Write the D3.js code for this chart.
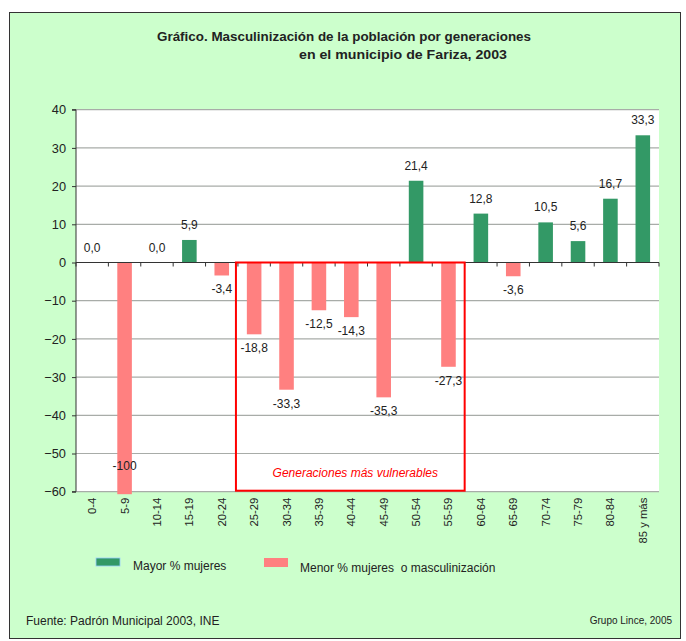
<!DOCTYPE html>
<html>
<head>
<meta charset="utf-8">
<script src="https://cdn.jsdelivr.net/npm/d3@7"></script>
<style>
html,body{margin:0;padding:0;background:#fff;}
svg{display:block;font-family:"Liberation Sans",Arial,sans-serif;}
text{white-space:pre;}
</style>
</head>
<body>
<svg id="chart" width="686" height="641"></svg>
<script>
const categories = ["0-4","5-9","10-14","15-19","20-24","25-29","30-34","35-39","40-44","45-49","50-54","55-59","60-64","65-69","70-74","75-79","80-84","85 y más"];
const values = [0.0,-100,0.0,5.9,-3.4,-18.8,-33.3,-12.5,-14.3,-35.3,21.4,-27.3,12.8,-3.6,10.5,5.6,16.7,33.3];
const valueLabels = ["0,0","-100","0,0","5,9","-3,4","-18,8","-33,3","-12,5","-14,3","-35,3","21,4","-27,3","12,8","-3,6","10,5","5,6","16,7","33,3"];
const yTicks = [40,30,20,10,0,-10,-20,-30,-40,-50,-60];
const highlightRange = ["25-29","55-59"];
const legendItems = ["Mayor % mujeres","Menor % mujeres  o masculinización"];
const titleLines = ["Gráfico. Masculinización de la población por generaciones","en el municipio de Fariza, 2003"];
const highlightText = "Generaciones más vulnerables";
const sourceText = "Fuente: Padrón Municipal 2003, INE";
const creditText = "Grupo Lince, 2005";

const GREEN = "#339966", PINK = "#FF8080", BG = "#CCFFCC";
const svg = d3.select("#chart");

// background and border
svg.append("rect").attr("x",0).attr("y",0).attr("width",686).attr("height",641).attr("fill","#fff");
svg.append("rect").attr("x",9.5).attr("y",12.5).attr("width",671).attr("height",626)
  .attr("fill",BG).attr("stroke","#333").attr("stroke-width",1);

const L = 76, R = 659, T = 109.7, B = 491.7;
const x = d3.scaleBand().domain(categories).range([L,R]).paddingInner(0.55).paddingOuter(0.275);
const y = d3.scaleLinear().domain([-60,40]).range([B,T]);
const step = x.step();

// plot area
svg.append("rect").attr("x",L).attr("y",T).attr("width",R-L).attr("height",B-T).attr("fill","#fff");

// gridlines
svg.append("g").selectAll("line").data(yTicks).join("line")
  .attr("x1",L).attr("x2",R).attr("y1",d=>y(d)).attr("y2",d=>y(d))
  .attr("stroke","#a8aca8").attr("stroke-width",1.2);

// title
svg.append("text").attr("x",157).attr("y",41).attr("font-size",13.4).attr("font-weight","bold").attr("fill","#222")
  .attr("textLength",374).attr("lengthAdjust","spacingAndGlyphs").text(titleLines[0]);
svg.append("text").attr("x",299).attr("y",59).attr("font-size",13.4).attr("font-weight","bold").attr("fill","#222")
  .attr("textLength",208).attr("lengthAdjust","spacingAndGlyphs").text(titleLines[1]);

// bars
const barEnd = v => Math.min(y(v), B + 2.5);
svg.append("g").selectAll("rect").data(values).join("rect")
  .attr("x",(d,i)=>x(categories[i]))
  .attr("width",x.bandwidth())
  .attr("y",d=> d>=0 ? y(d) : y(0))
  .attr("height",d=> d>=0 ? y(0)-y(d) : barEnd(d)-y(0))
  .attr("fill",d=> d>0 ? GREEN : PINK);

// y axis
const yAxis = d3.axisLeft(y).tickValues(yTicks).tickSize(4).tickPadding(6).tickFormat(d3.format("d"));
const gy = svg.append("g").attr("transform",`translate(${L},0)`).call(yAxis);
gy.select(".domain").attr("stroke","#333").attr("d",`M-4,${y(40)}H0V${y(-60)}H-4`);
gy.selectAll(".tick line").attr("stroke","#333");
gy.selectAll("text").attr("font-size",12.8).attr("fill","#222").attr("font-family","Liberation Sans, Arial, sans-serif");

// zero line with ticks at band boundaries
svg.append("line").attr("x1",L).attr("x2",R).attr("y1",y(0)).attr("y2",y(0)).attr("stroke","#333").attr("stroke-width",1.2);
svg.append("g").selectAll("line").data(d3.range(categories.length+1)).join("line")
  .attr("x1",i=>L+i*step).attr("x2",i=>L+i*step)
  .attr("y1",y(0)).attr("y2",y(0)+4).attr("stroke","#333");

// highlight rectangle
const hx0 = x(highlightRange[0]) - (step - x.bandwidth())/2 - 2;
const hx1 = x(highlightRange[1]) + x.bandwidth() + (step - x.bandwidth())/2;
svg.append("rect").attr("x",hx0).attr("y",y(0)).attr("width",hx1-hx0).attr("height",y(-60)-1-y(0))
  .attr("fill","none").attr("stroke","#FF0000").attr("stroke-width",2);
svg.append("text").attr("x",(hx0+hx1)/2+5).attr("y",y(-60)-15).attr("text-anchor","middle")
  .attr("font-size",12).attr("font-style","italic").attr("fill","#FF0000").text(highlightText);

// data labels
svg.append("g").selectAll("text").data(values).join("text")
  .attr("x",(d,i)=>x(categories[i])+x.bandwidth()/2)
  .attr("y",d=>{
    if (d < -60) return y(-60) - 22;
    return d>=0 ? y(d) - 11 : y(d) + 18;
  })
  .attr("text-anchor","middle").attr("font-size",12).attr("fill","#222")
  .text((d,i)=>valueLabels[i]);

// x labels (rotated)
svg.append("g").selectAll("text").data(categories).join("text")
  .attr("transform",d=>`translate(${x(d)+x.bandwidth()/2+4},${B+6}) rotate(-90)`)
  .attr("text-anchor","end").attr("font-size",11.3).attr("fill","#222").text(d=>d);

// legend
svg.append("rect").attr("x",96).attr("y",558).attr("width",24).attr("height",8).attr("fill",GREEN).attr("stroke","#99CCFF").attr("stroke-width",0.8);
svg.append("text").attr("x",133).attr("y",570).attr("font-size",12).attr("fill","#222").text(legendItems[0]);
svg.append("rect").attr("x",264).attr("y",558).attr("width",24).attr("height",9).attr("fill",PINK);
svg.append("text").attr("x",300).attr("y",572).attr("font-size",12).attr("fill","#222").text(legendItems[1]);

// footer
svg.append("text").attr("x",26).attr("y",625).attr("font-size",12).attr("fill","#222").text(sourceText);
svg.append("text").attr("x",672).attr("y",624).attr("text-anchor","end").attr("font-size",10).attr("fill","#222").text(creditText);
</script>
</body>
</html>
